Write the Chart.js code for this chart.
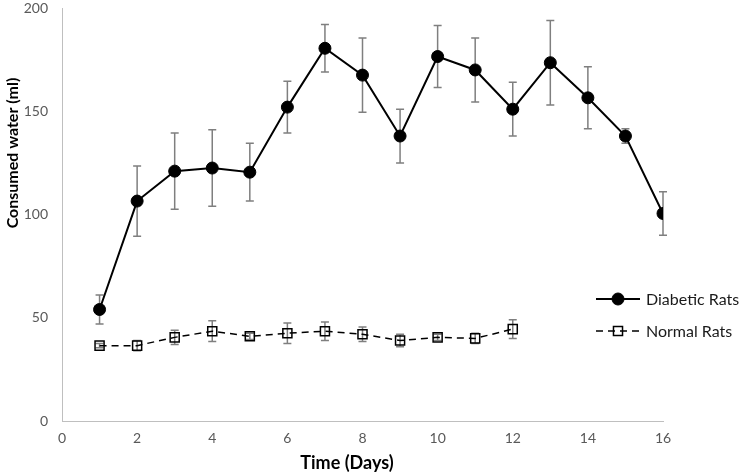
<!DOCTYPE html>
<html lang="en">
<head>
<meta charset="UTF-8">
<title>Consumed water</title>
<script src="https://cdn.jsdelivr.net/npm/chart.js"></script>
<style>
    html, body { margin: 0; padding: 0; background: #fff; }
    #wrap { width: 742px; height: 472px; }
</style>
</head>
<body>
<div id="wrap"><canvas id="waterChart" width="742" height="472"></canvas></div>
<script>
// Values
const diabeticDays = [1, 2, 3, 4, 5, 6, 7, 8, 9, 10, 11, 12, 13, 14, 15, 16];
const diabeticMean = [54, 106.5, 121, 122.5, 120.5, 152, 180.5, 167.5, 138, 176.5, 170, 151, 173.5, 156.5, 138, 100.5];
const diabeticErr = [7, 17, 18.5, 18.5, 14, 12.5, 11.5, 18, 13, 15, 15.5, 13, 20.5, 15, 3.5, 10.5];

const normalDays = [1, 2, 3, 4, 5, 6, 7, 8, 9, 10, 11, 12];
const normalMean = [36.5, 36.5, 40.5, 43.5, 41, 42.5, 43.5, 42, 39, 40.5, 40, 44.5];
const normalErr = [1, 2.5, 3.5, 5, 1.5, 5, 4.5, 3.5, 3, 1.5, 2.5, 4.5];

const seriesNames = ['Diabetic Rats', 'Normal Rats'];
const xTitle = 'Time (Days)';
const yTitle = 'Consumed water (ml)';

const FONT = 'Lato, "Open Sans", sans-serif';

function toPoints(xs, ys) {
    return xs.map((x, i) => ({ x: x, y: ys[i] }));
}

// Draws the vertical error bars with caps, behind the markers
const errorBars = {
    id: 'errorBars',
    beforeDatasetsDraw(chart) {
        const ctx = chart.ctx;
        const xs = chart.scales.x;
        const ys = chart.scales.y;
        ctx.save();
        ctx.strokeStyle = '#7f7f7f';
        ctx.lineWidth = 1.5;
        chart.data.datasets.forEach(ds => {
            ds.data.forEach((p, j) => {
                const e = ds.errors[j];
                const px = xs.getPixelForValue(p.x);
                const top = ys.getPixelForValue(p.y + e);
                const bot = ys.getPixelForValue(p.y - e);
                ctx.beginPath();
                ctx.moveTo(px, top);
                ctx.lineTo(px, bot);
                ctx.moveTo(px - 4, top);
                ctx.lineTo(px + 4, top);
                ctx.moveTo(px - 4, bot);
                ctx.lineTo(px + 4, bot);
                ctx.stroke();
            });
        });
        ctx.restore();
    }
};

// Legend sitting at the right, overlapping the plot like the Excel one
const sideLegend = {
    id: 'sideLegend',
    afterDraw(chart) {
        const ctx = chart.ctx;
        const area = chart.chartArea;
        const x0 = area.right - 67;
        let yy = area.top + 291;
        chart.data.datasets.forEach(ds => {
            ctx.save();
            ctx.strokeStyle = ds.borderColor;
            ctx.lineWidth = ds.borderWidth;
            ctx.setLineDash(ds.borderDash || []);
            ctx.beginPath();
            ctx.moveTo(x0, yy);
            ctx.lineTo(x0 + 44, yy);
            ctx.stroke();
            ctx.setLineDash([]);
            ctx.fillStyle = ds.pointBackgroundColor;
            ctx.strokeStyle = ds.pointBorderColor;
            ctx.lineWidth = ds.pointBorderWidth;
            Chart.helpers.drawPoint(ctx, {
                pointStyle: ds.pointStyle,
                radius: ds.pointRadius,
                rotation: 0,
                borderWidth: ds.pointBorderWidth
            }, x0 + 22, yy);
            ctx.fillStyle = '#1a1a1a';
            ctx.font = '16px ' + FONT;
            ctx.textBaseline = 'middle';
            ctx.textAlign = 'left';
            ctx.fillText(ds.label, x0 + 50, yy + 1);
            ctx.restore();
            yy += 32;
        });
    }
};

// Axis titles, placed where the original has them
const axisTitles = {
    id: 'axisTitles',
    afterDraw(chart) {
        const ctx = chart.ctx;
        const area = chart.chartArea;
        ctx.save();
        ctx.fillStyle = '#000';
        ctx.textAlign = 'center';
        ctx.textBaseline = 'middle';
        ctx.font = 'bold 18px ' + FONT;
        ctx.fillText(xTitle, area.left + 285, area.bottom + 42);
        ctx.font = 'bold 16px ' + FONT;
        ctx.translate(area.left - 49, area.top + 145);
        ctx.rotate(-Math.PI / 2);
        ctx.fillText(yTitle, 0, 0);
        ctx.restore();
    }
};

const ctx = document.getElementById('waterChart').getContext('2d');
new Chart(ctx, {
    type: 'line',
    data: {
        datasets: [
            {
                label: seriesNames[0],
                data: toPoints(diabeticDays, diabeticMean),
                errors: diabeticErr,
                borderColor: '#000',
                borderWidth: 2,
                pointStyle: 'circle',
                pointRadius: 6,
                pointBackgroundColor: '#000',
                pointBorderColor: '#000',
                pointBorderWidth: 1,
                fill: false,
                tension: 0
            },
            {
                label: seriesNames[1],
                data: toPoints(normalDays, normalMean),
                errors: normalErr,
                borderColor: '#000',
                borderWidth: 1.5,
                borderDash: [7, 5],
                pointStyle: 'rect',
                pointRadius: 6.4,
                pointBackgroundColor: 'rgba(255,255,255,0)',
                pointBorderColor: '#000',
                pointBorderWidth: 1.5,
                fill: false,
                tension: 0
            }
        ]
    },
    options: {
        responsive: false,
        animation: false,
        devicePixelRatio: 1,
        events: [],
        layout: { padding: { left: 0, right: 79, top: 8, bottom: 0 } },
        plugins: {
            legend: { display: false },
            tooltip: { enabled: false }
        },
        scales: {
            x: {
                type: 'linear',
                min: 0,
                max: 16,
                grid: { display: false },
                border: { color: '#bfbfbf', width: 1 },
                ticks: {
                    stepSize: 2,
                    padding: 1,
                    color: '#595959',
                    font: { family: FONT, size: 14 }
                },
                afterFit: s => { s.height = 51; }
            },
            y: {
                min: 0,
                max: 200,
                grid: { display: false },
                border: { color: '#bfbfbf', width: 1 },
                ticks: {
                    stepSize: 50,
                    padding: 6,
                    color: '#595959',
                    font: { family: FONT, size: 14 }
                },
                afterFit: s => { s.width = 62; s.paddingTop = 0; }
            }
        }
    },
    plugins: [errorBars, sideLegend, axisTitles]
});
</script>
</body>
</html>
